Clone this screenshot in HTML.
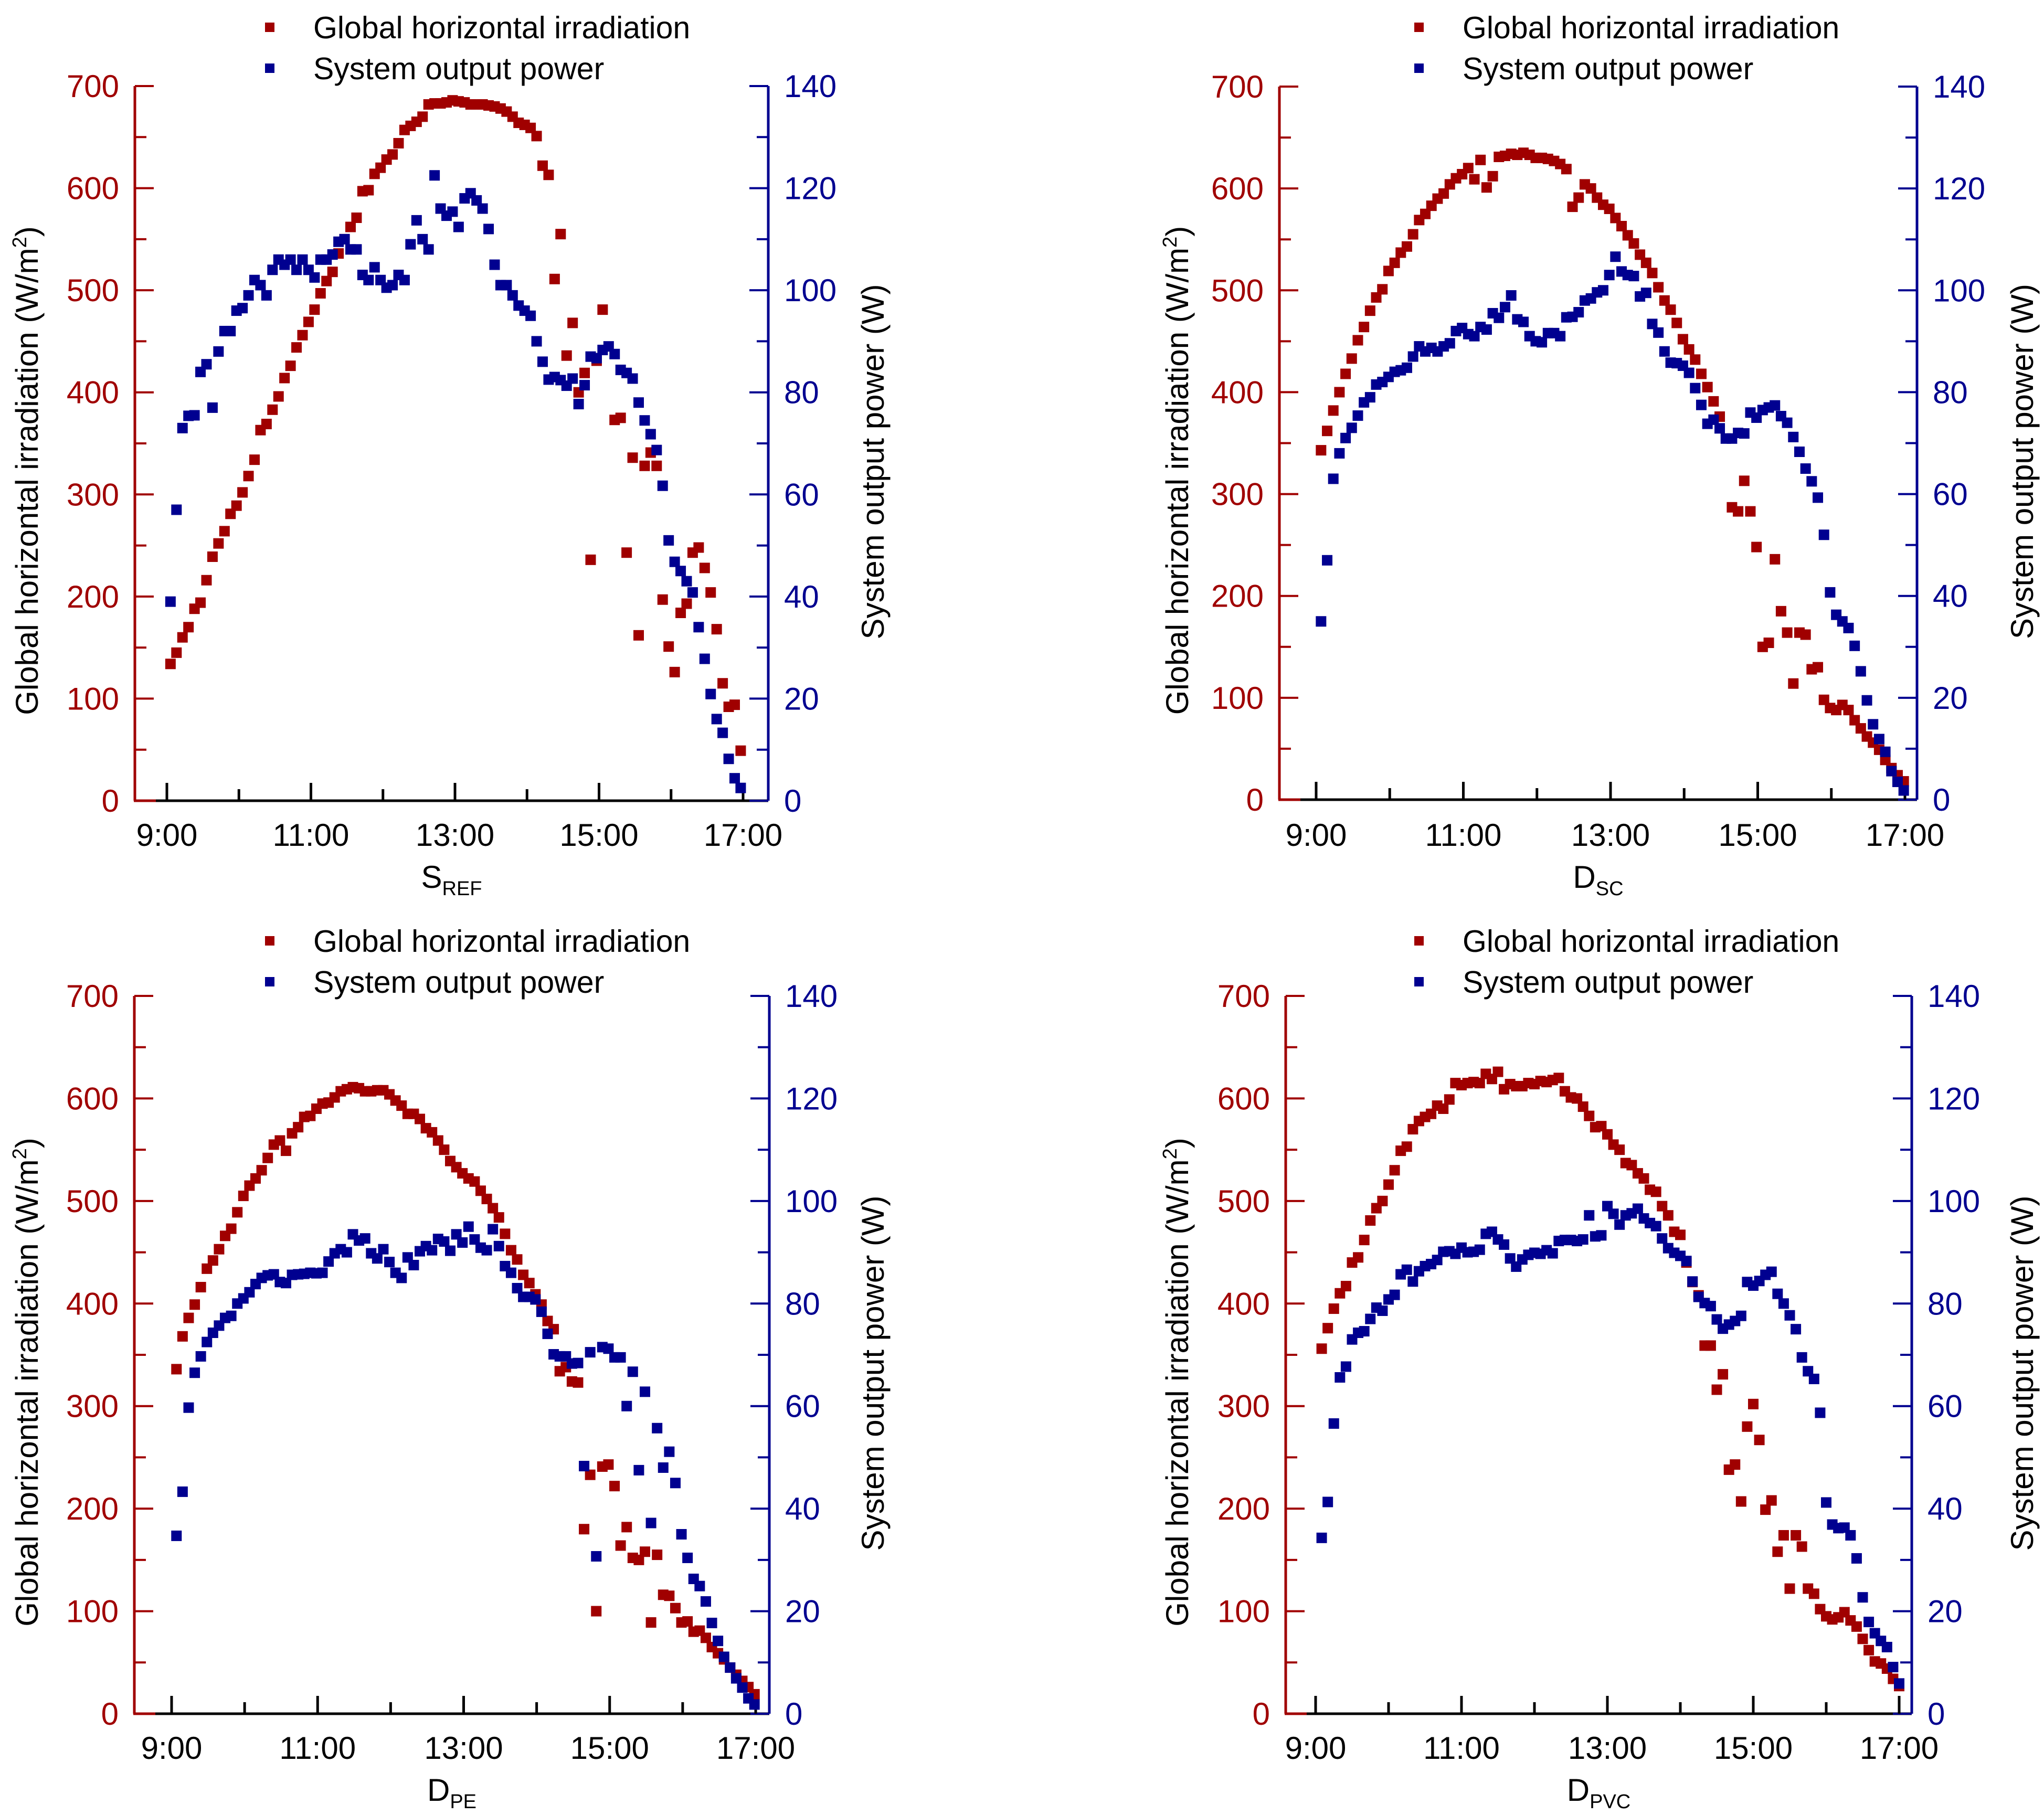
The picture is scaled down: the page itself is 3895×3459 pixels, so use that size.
<!DOCTYPE html>
<html><head><meta charset="utf-8"><style>
html,body{margin:0;padding:0;background:#fff;}
svg{display:block;font-family:"Liberation Sans",Arial,sans-serif;}
</style></head><body>
<svg id="fig" width="3895" height="3459" viewBox="0 0 3895 3459" xmlns="http://www.w3.org/2000/svg"></svg>
<script>
const leftTicks = [0,100,200,300,400,500,600,700];
const rightTicks = [0,20,40,60,80,100,120,140];
const xTickLabels = ["9:00","11:00","13:00","15:00","17:00"];
const xTickHours = [9,11,13,15,17];
const panelNames = ["S","D","D","D"];
const panelSubs = ["REF","SC","PE","PVC"];
const startMin = [3,4,4,5];

const irr1 = [134,145,160,170,188,194,216,239,252,264,281,289,302,318,334,363,369,383,396,414,426,444,456,469,481,497,509,518,536,550,562,571,597,598,614,620,628,633,644,657,661,665,670,682,683,683,684,686,685,684,682,682,682,681,680,678,675,670,664,662,659,651,622,613,511,555,436,468,400,419,236,431,481,null,373,375,243,336,162,328,341,328,197,151,126,184,193,243,248,228,204,168,115,92,94,49];
const pow1 = [39,57,73,75.4,75.5,84,85.5,77,88,92,92,96,96.5,99,102,101,99,104,106,105,106,104,106,104,102.5,106,106,107,109.5,110,108,108,103,102,104.5,102,100.5,101,103,102,109,113.7,110,108,122.5,116,114.6,115.4,112.4,118,119,117.6,116,112,105,101,101,99,97,96,95,90,86,82.5,83,82.4,81.3,82.7,77.7,81.4,87,86.7,88.3,89,87.5,84.4,83.8,82.7,78,74.5,71.8,68.7,61.7,51,46.8,45,43,40.8,34,27.8,20.9,16,13.3,8.2,4.4,2.5];
const irr2 = [343,362,382,400,418,433,451,464,480,493,501,519,527,537,543,555,569,575,583,590,595,604,610,614,620,609,628,601,612,631,632,634,633,635,633,630,630,629,627,624,619,582,591,604,600,591,584,580,571,563,554,546,535,527,517,503,490,481,468,452,442,432,418,405,391,376,null,287,283,313,283,248,150,154,236,185,164,114,164,162,128,130,98,90,88,93,88,78,70,62,56,49,39,31,24,18];
const pow2 = [35,47,63,68,71,73,75.4,78,79,81.5,82,83,84,84.3,84.8,87,89,88,88.7,88,89,89.6,92,92.6,91.4,91,92.8,92.3,95.5,94.6,96.7,99,94.3,93.8,91,90,89.8,91.6,91.6,91,94.7,94.8,95.7,98,98.4,99.6,100,103,106.6,103.7,103,102.8,98.8,99.5,93.4,91.7,88,85.8,85.7,85.2,83.8,80.8,77.5,73.8,74.6,72.9,70.9,70.9,72,71.9,76,75,76.5,77,77.4,75.3,74,71.2,68.3,65,62.5,59.3,52,40.7,36.3,35,33.7,30.2,25.2,19.5,14.8,11.9,9.4,5.6,3.5,1.8];
const irr3 = [336,368,386,399,416,434,442,453,466,473,489,505,515,522,530,542,555,559,549,566,572,582,583,590,595,596,601,607,609,611,610,607,607,608,608,604,598,593,585,585,580,571,567,559,550,539,533,527,522,519,510,502,493,484,468,452,443,428,420,409,399,383,375,334,338,324,323,180,233,100,241,243,222,164,182,152,150,158,89,155,116,115,103,89,90,80,81,74,65,59,53,45,38,32,26,19];
const pow3 = [34.7,43.3,59.7,66.5,69.7,72.5,74.3,75.7,77.2,77.6,80,81,82.2,83.8,85,85.5,85.7,84.2,84,85.6,85.7,85.8,86,85.9,86,88.2,89.8,90.6,90,93.5,92.3,92.7,89.8,88.8,90.6,88.1,86,85,89,87.5,90.2,91.2,90.4,92.6,92.1,90.3,93.5,91.9,95,92.5,90.9,90.4,94.5,91.2,87.3,86,83,81.3,81.3,80.8,78.4,74.1,70.1,69.7,69.7,68.3,68.4,48.3,70.5,30.7,71.5,71.2,69.5,69.5,60,66.7,47.5,62.8,37.2,55.7,48,51.1,45,35,30.4,26.3,24.9,21.9,17.7,14.2,11.1,9,6.9,5.1,3,1.8];
const irr4 = [356,376,395,410,417,440,445,462,481,493,500,516,530,549,553,570,578,582,585,593,590,599,615,613,615,616,615,624,619,626,609,614,612,612,615,614,617,616,618,620,607,601,600,592,583,572,573,565,555,550,537,535,527,522,511,509,495,486,470,467,440,421,408,359,359,316,331,238,243,207,280,302,267,199,208,158,174,122,174,163,122,117,102,95,92,94,99,91,85,73,62,51,49,44,34,27];
const pow4 = [34.3,41.3,56.6,65.6,67.7,73,74.3,74.6,77,79.2,78.6,80.8,81.7,85.7,86.6,84.3,86.3,87.3,87.7,88.5,90.1,90.2,89.7,90.9,90,90.1,90.5,93.6,94,92.5,91.5,88.8,87.2,88.6,89.5,89.9,89.7,90.4,89.8,92.2,92.4,92.4,92.2,92.5,97.2,93.1,93.3,99,97.5,95.4,97.2,97.6,98.5,96.6,95.7,95.1,92.7,90.8,89.9,89.3,88.3,84.3,81.3,80.1,79.5,76.9,75.1,75.9,76.6,77.6,84.2,83.5,84.4,85.6,86.2,81.9,80,77.7,75,69.5,66.8,65.3,58.7,41.2,36.9,36.2,36.3,34.8,30.3,22.7,17.9,15.7,14.2,13,9.1,5.9];

const irrSeries = [irr1,irr2,irr3,irr4];
const powSeries = [pow1,pow2,pow3,pow4];

const RED="#a00000", BLUE="#000090";
const NS="http://www.w3.org/2000/svg";
const svg=document.getElementById('fig');
function mk(tag,attrs,parent){const e=document.createElementNS(NS,tag);for(const k in attrs)e.setAttribute(k,attrs[k]);(parent||svg).appendChild(e);return e;}

const layouts=[
 {L:257,R:1464,T:164,B:1526,x9:318,x17:1416,legY:52,legX:514,ylx:50,yrx:1662,xtY:1612,titleY:1692},
 {L:2438,R:3653,T:165,B:1524,x9:2508,x17:3630,legY:52,legX:2704,ylx:2242,yrx:3852,xtY:1612,titleY:1692},
 {L:256,R:1466,T:1898,B:3266,x9:327,x17:1440,legY:1793,legX:514,ylx:50,yrx:1662,xtY:3352,titleY:3432},
 {L:2450,R:3643,T:1898,B:3266,x9:2507,x17:3619,legY:1793,legX:2704,ylx:2242,yrx:3852,xtY:3352,titleY:3432}
];

layouts.forEach((P,pi)=>{
  const g=mk('g',{});
  
  
  const xs=h=>P.x9+(h-9)*(P.x17-P.x9)/8;
  const yl=v=>P.B-(v/700)*(P.B-P.T);
  const yr=v=>P.B-(v/140)*(P.B-P.T);
  const la=mk('line',{x1:P.L,y1:P.T,x2:P.L,y2:P.B,stroke:RED,'stroke-width':5},g);
  
  const ra=mk('line',{x1:P.R,y1:P.T,x2:P.R,y2:P.B,stroke:BLUE,'stroke-width':5},g);
  
  const ba=mk('line',{x1:P.L,y1:P.B,x2:P.R,y2:P.B,stroke:'#000','stroke-width':5},g);
  
  mk('line',{x1:P.L-2,y1:P.B,x2:P.L+40,y2:P.B,stroke:RED,'stroke-width':5},g);
  for(let v=0;v<=700;v+=50){const y=yl(v);const len=v%100===0?36:22;
    mk('line',{x1:P.L,y1:y,x2:P.L+len,y2:y,stroke:RED,'stroke-width':4},g);
    mk('line',{x1:P.R,y1:y,x2:P.R-len,y2:y,stroke:BLUE,'stroke-width':4},g);}
  leftTicks.forEach(v=>{const t=mk('text',{x:P.L-30,y:yl(v)+21,'text-anchor':'end','font-size':60,fill:RED},g);t.textContent=v;
    });
  rightTicks.forEach(v=>{const t=mk('text',{x:P.R+30,y:yr(v)+21,'text-anchor':'start','font-size':60,fill:BLUE},g);t.textContent=v;
    });
  for(let h=9;h<=17;h++){const x=xs(h);const len=h%2===1?34:22;
    mk('line',{x1:x,y1:P.B,x2:x,y2:P.B-len,stroke:'#000','stroke-width':5},g);}
  xTickLabels.forEach((s,i)=>{const t=mk('text',{x:xs(xTickHours[i]),y:P.xtY,'text-anchor':'middle','font-size':60,fill:'#000'},g);t.textContent=s;
    });
  const xt=mk('text',{x:(P.L+P.R)/2,y:P.titleY,'text-anchor':'middle','font-size':60,fill:'#000'},g);
  
  const s1=mk('tspan',{},xt);s1.textContent=panelNames[pi];
  const s2=mk('tspan',{dy:14,'font-size':38},xt);s2.textContent=panelSubs[pi];
  const cy=(P.T+P.B)/2;
  const ylt=mk('text',{x:0,y:0,'text-anchor':'middle','font-size':60,fill:'#000',transform:`translate(${P.ylx+22},${cy+52}) rotate(-90)`},g);
  
  const a=mk('tspan',{},ylt);a.textContent='Global horizontal irradiation (W/m';
  const b=mk('tspan',{dy:-22,'font-size':38},ylt);b.textContent='2';
  const c=mk('tspan',{dy:22},ylt);c.textContent=')';
  const yrt=mk('text',{x:0,y:0,'text-anchor':'middle','font-size':60,fill:'#000',transform:`translate(${P.yrx+22},${cy+35}) rotate(-90)`},g);
  
  yrt.textContent='System output power (W)';
  const lx=P.legX;
  [[RED,'Global horizontal irradiation'],[BLUE,'System output power']].forEach((it,k)=>{
    const yy=P.legY+k*78;
    const le=mk('g',{},g);
    
    mk('rect',{x:lx-9,y:yy-9,width:18,height:18,fill:it[0]},le);
    const t=mk('text',{x:lx+83,y:yy+21,'font-size':59,fill:'#000'},le);t.textContent=it[1];
  });
  const st=9+startMin[pi]/60;
  irrSeries[pi].forEach((v,i)=>{if(v===null)return;const h=st+i*5/60;
    const r=mk('rect',{x:xs(h)-10,y:yl(v)-10,width:20,height:20,fill:RED},g);
    });
  powSeries[pi].forEach((v,i)=>{if(v===null)return;const h=st+i*5/60;
    const r=mk('rect',{x:xs(h)-10,y:yr(v)-10,width:20,height:20,fill:BLUE},g);
    });
});
</script>
</body></html>
